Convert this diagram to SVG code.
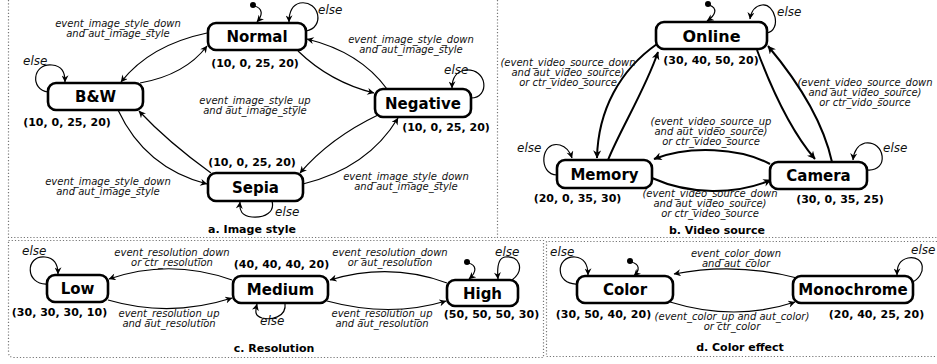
<svg xmlns="http://www.w3.org/2000/svg" width="937" height="364" viewBox="0 0 937 364">
  <style>
    .frame { fill: none; stroke: #777; stroke-width: 1.2; stroke-dasharray: 1.2 2; }
    .node rect { fill: #fff; stroke: #000; stroke-width: 2.6; }
    .name { font-family: "DejaVu Sans", sans-serif; font-weight: bold; font-size: 15px; text-anchor: middle; fill: #000; }
    .vals { font-family: "DejaVu Sans", sans-serif; font-weight: bold; font-size: 11px; text-anchor: middle; fill: #000; }
    .lbl { font-family: "DejaVu Sans", sans-serif; font-style: italic; font-size: 10px; text-anchor: middle; fill: #111; }
    .else { font-family: "DejaVu Sans", sans-serif; font-style: italic; font-size: 12px; fill: #111; }
    .title { font-family: "DejaVu Sans", sans-serif; font-weight: bold; font-size: 11px; text-anchor: middle; fill: #000; }
    .e { fill: none; stroke: #000; stroke-width: 1.2; marker-end: url(#arr); }
    .e2 { fill: none; stroke: #000; stroke-width: 2; marker-end: url(#arr2); }
    .dot { fill: #000; }
  </style>
  <defs>
    <marker id="arr" viewBox="0 0 10 10" refX="9.5" refY="5" markerWidth="9" markerHeight="7" markerUnits="userSpaceOnUse" orient="auto">
      <path d="M0,0 L10,5 L0,10 L3,5 z" fill="#000"/>
    </marker>
    <marker id="arr2" viewBox="0 0 10 10" refX="9.5" refY="5" markerWidth="11" markerHeight="8" markerUnits="userSpaceOnUse" orient="auto">
      <path d="M0,0 L10,5 L0,10 L3,5 z" fill="#000"/>
    </marker>
  </defs>

  <!-- panel frames -->
  <g id="frames">
    <path class="frame" d="M8.5,0 V237.5 H497.5 M497.5,0 V237.5 H937"/>
    <path class="frame" d="M8.5,240.5 H543.5 V357.5 H14 Q8.5,357.5 8.5,352 Z"/>
    <path class="frame" d="M937,241.5 H546.5 V356.5 H937"/>
  </g>

  <!-- connectors -->
  <g id="connectors">
    <!-- a. image style -->
    <path class="e" d="M207,33 Q150,45 121,82"/>
    <path class="e" d="M140,83 Q185,75 207,46"/>
    <path class="e" d="M387,89 Q360,52 307,39"/>
    <path class="e" d="M298,51 Q330,82 374,93"/>
    <path class="e" d="M118,110 Q145,168 207,184"/>
    <path class="e" d="M211,173 Q168,142 139,111"/>
    <path class="e" d="M378,115 Q330,138 300,173"/>
    <path class="e" d="M303,184 Q368,168 398,118"/>
    <path class="e" d="M306,31 C325,28 320,0 300,3 C292,5 289,12 289,22"/>
    <circle class="dot" cx="253" cy="5" r="3"/>
    <path class="e" d="M254,6 C263,8 263,15 257,22"/>
    <path class="e" d="M48,92 C30,90 32,63 52,65 C62,66 65,72 65,82"/>
    <path class="e" d="M471,98 C490,98 488,68 465,70 C455,72 452,80 452,88"/>
    <path class="e" d="M272,201 C275,212 265,218 252,217 C242,216 239,211 240,202"/>

    <!-- b. video source -->
    <path class="e2" d="M657,44 C620,70 598,110 597,158"/>
    <path class="e2" d="M608,160 C620,130 645,90 658,52"/>
    <path class="e2" d="M757,50 C772,90 790,130 815,159"/>
    <path class="e2" d="M832,162 C825,130 805,90 768,46"/>
    <path class="e2" d="M770,164 C740,148 690,145 654,159"/>
    <path class="e2" d="M652,178 C690,195 735,195 771,180"/>
    <circle class="dot" cx="708" cy="4" r="3"/>
    <path class="e" d="M709,5 C718,8 716,15 707,21"/>
    <path class="e" d="M767,33 C782,30 775,3 762,5 C755,6 751,12 750,19"/>
    <path class="e" d="M557,175 C538,175 540,140 560,145 C567,147 570,152 572,158"/>
    <path class="e" d="M867,170 C890,172 885,140 865,143 C858,145 854,150 853,160"/>

    <!-- c. resolution -->
    <path class="e" d="M232,280 Q170,258 109,279"/>
    <path class="e" d="M108,300 Q170,318 232,298"/>
    <path class="e" d="M447,283 Q390,262 330,280"/>
    <path class="e" d="M327,301 Q390,318 446,301"/>
    <path class="e" d="M47,284 C25,285 25,255 45,257 C55,258 58,265 58,274"/>
    <path class="e" d="M285,303 C287,318 270,320 262,318 C255,316 255,312 257,304"/>
    <circle class="dot" cx="467" cy="262" r="3"/>
    <path class="e" d="M468,263 C477,265 477,272 469,279"/>
    <path class="e" d="M512,280 C525,270 520,255 505,257 C498,258 497,268 498,279"/>

    <!-- d. color effect -->
    <path class="e" d="M797,278 Q735,262 674,274"/>
    <path class="e" d="M670,302 Q735,322 795,302"/>
    <circle class="dot" cx="630" cy="261" r="3"/>
    <path class="e" d="M631,262 C640,264 640,270 634,276"/>
    <path class="e" d="M577,284 C555,285 555,256 575,257 C585,258 588,265 588,275"/>
    <path class="e" d="M911,283 C928,275 925,255 908,258 C900,260 897,265 897,275"/>
  </g>

  <!-- connector labels -->
  <g id="labels">
    <text class="lbl" x="118" y="27">event_image_style_down</text>
    <text class="lbl" x="118" y="37">and aut_image_style</text>
    <text class="lbl" x="411" y="43">event_image_style_down</text>
    <text class="lbl" x="411" y="53">and aut_image_style</text>
    <text class="lbl" x="255" y="104">event_image_style_up</text>
    <text class="lbl" x="255" y="114">and aut_image_style</text>
    <text class="lbl" x="108" y="185">event_image_style_down</text>
    <text class="lbl" x="108" y="195">and aut_image_style</text>
    <text class="lbl" x="406" y="180">event_image_style_down</text>
    <text class="lbl" x="406" y="190">and aut_image_style</text>
    <text class="else" x="318" y="14">else</text>
    <text class="else" x="23" y="65">else</text>
    <text class="else" x="444" y="74">else</text>
    <text class="else" x="275" y="216">else</text>

    <text class="lbl" x="568" y="66">(event_video_source_down</text>
    <text class="lbl" x="568" y="76">and aut_video_source)</text>
    <text class="lbl" x="568" y="86">or ctr_video_source</text>
    <text class="lbl" x="865" y="86">(event_video_source_down</text>
    <text class="lbl" x="865" y="96">and aut_video_source)</text>
    <text class="lbl" x="865" y="106">or ctr_vido_source</text>
    <text class="lbl" x="711" y="125">(event_video_source_up</text>
    <text class="lbl" x="711" y="135">and aut_video_source)</text>
    <text class="lbl" x="711" y="145">or ctr_video_source</text>
    <text class="lbl" x="710" y="197">(event_video_source_down</text>
    <text class="lbl" x="710" y="207">and aut_video_source)</text>
    <text class="lbl" x="710" y="217">or ctr_video_source</text>
    <text class="else" x="777" y="16">else</text>
    <text class="else" x="517" y="152">else</text>
    <text class="else" x="883" y="152">else</text>

    <text class="lbl" x="172" y="256">event_resolution_down</text>
    <text class="lbl" x="172" y="266">or ctr_resolution</text>
    <text class="lbl" x="169" y="317">event_resolution_up</text>
    <text class="lbl" x="169" y="327">and aut_resolution</text>
    <text class="lbl" x="390" y="256">event_resolution_down</text>
    <text class="lbl" x="390" y="266">or aut_resolution</text>
    <text class="lbl" x="382" y="317">event_resolution_up</text>
    <text class="lbl" x="382" y="327">and aut_resolution</text>
    <text class="else" x="22" y="255">else</text>
    <text class="else" x="260" y="325">else</text>
    <text class="else" x="495" y="256">else</text>

    <text class="lbl" x="736" y="257">event_color_down</text>
    <text class="lbl" x="736" y="267">and aut_color</text>
    <text class="lbl" x="732" y="320">(event_color_up and aut_color)</text>
    <text class="lbl" x="732" y="330">or ctr_color</text>
    <text class="else" x="550" y="256">else</text>
    <text class="else" x="911" y="254">else</text>
  </g>

  <!-- a. image style -->
  <g id="normal" class="node">
    <rect x="208" y="23" width="98" height="27" rx="8"/>
    <text class="name" x="257" y="42">Normal</text>
    <text class="vals" x="255" y="67">(10, 0, 25, 20)</text>
  </g>
  <g id="bw" class="node">
    <rect x="48" y="83" width="95" height="27" rx="8"/>
    <text class="name" x="95.5" y="102">B&amp;W</text>
    <text class="vals" x="67" y="126">(10, 0, 25, 20)</text>
  </g>
  <g id="negative" class="node">
    <rect x="375" y="89" width="96" height="28" rx="8"/>
    <text class="name" x="423" y="108.5">Negative</text>
    <text class="vals" x="446" y="131">(10, 0, 25, 20)</text>
  </g>
  <g id="sepia" class="node">
    <rect x="208" y="173" width="95" height="28" rx="8"/>
    <text class="name" x="255.5" y="192.5">Sepia</text>
    <text class="vals" x="252" y="166">(10, 0, 25, 20)</text>
  </g>

  <!-- b. video source -->
  <g id="online" class="node">
    <rect x="656" y="22" width="111" height="27" rx="8"/>
    <text class="name" x="711.5" y="41.5" style="font-size:16px">Online</text>
    <text class="vals" x="711" y="64">(30, 40, 50, 20)</text>
  </g>
  <g id="memory" class="node">
    <rect x="557" y="160" width="95" height="28" rx="8"/>
    <text class="name" x="604.5" y="179.5">Memory</text>
    <text class="vals" x="577.5" y="202">(20, 0, 35, 30)</text>
  </g>
  <g id="camera" class="node">
    <rect x="770" y="162" width="97" height="27" rx="8"/>
    <text class="name" x="818.5" y="181">Camera</text>
    <text class="vals" x="840" y="203">(30, 0, 35, 25)</text>
  </g>

  <!-- c. resolution -->
  <g id="low" class="node">
    <rect x="47" y="275" width="61" height="27" rx="8"/>
    <text class="name" x="77.5" y="294">Low</text>
    <text class="vals" x="59.5" y="316">(30, 30, 30, 10)</text>
  </g>
  <g id="medium" class="node">
    <rect x="233" y="276" width="95" height="27" rx="8"/>
    <text class="name" x="280.5" y="295">Medium</text>
    <text class="vals" x="281.5" y="268">(40, 40, 40, 20)</text>
  </g>
  <g id="high" class="node">
    <rect x="447" y="280" width="71" height="26" rx="8"/>
    <text class="name" x="482.5" y="298.5">High</text>
    <text class="vals" x="491.5" y="318">(50, 50, 50, 30)</text>
  </g>

  <!-- d. color effect -->
  <g id="color" class="node">
    <rect x="577" y="276" width="96" height="27" rx="8"/>
    <text class="name" x="625" y="295">Color</text>
    <text class="vals" x="603.5" y="318">(30, 50, 40, 20)</text>
  </g>
  <g id="monochrome" class="node">
    <rect x="793" y="276" width="120" height="27" rx="8"/>
    <text class="name" x="853" y="295">Monochrome</text>
    <text class="vals" x="876.5" y="318">(20, 40, 25, 20)</text>
  </g>

  <!-- panel captions -->
  <g id="captions">
    <text class="title" x="252" y="233">a. Image style</text>
    <text class="title" x="717" y="234">b. Video source</text>
    <text class="title" x="274" y="352">c. Resolution</text>
    <text class="title" x="740" y="351">d. Color effect</text>
  </g>
</svg>
